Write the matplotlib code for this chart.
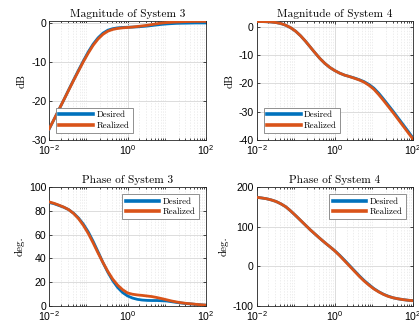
import numpy as np
import matplotlib
matplotlib.use("Agg")
import matplotlib.pyplot as plt
from matplotlib.ticker import LogLocator, NullFormatter, FixedLocator

plt.rcParams['mathtext.fontset'] = 'custom'
plt.rcParams['mathtext.rm'] = 'Liberation Sans'
plt.rcParams['mathtext.it'] = 'Liberation Sans:italic'
plt.rcParams['mathtext.default'] = 'regular'
plt.rcParams['axes.unicode_minus'] = False
plt.rcParams['font.family'] = ['Liberation Sans', 'DejaVu Sans']

# frequency grid (log10 of rad/s)
log_freq = [-2.0, -1.875, -1.75, -1.625, -1.5, -1.375, -1.25, -1.125, -1.0,
            -0.875, -0.75, -0.625, -0.5, -0.375, -0.25, -0.125, 0.0,
            0.125, 0.25, 0.375, 0.5, 0.625, 0.75, 0.875, 1.0,
            1.125, 1.25, 1.375, 1.5, 1.625, 1.75, 1.875, 2.0]

mag3_desired = [-27.3, -24.8, -22.3, -19.8, -17.2, -14.7, -12.2, -9.8, -7.5,
                -5.5, -3.9, -2.7, -1.95, -1.55, -1.35, -1.25, -1.2,
                -1.15, -1.1, -1.0, -0.9, -0.75, -0.6, -0.45, -0.35,
                -0.27, -0.2, -0.17, -0.15, -0.12, -0.1, -0.1, -0.1]
mag3_realized = [-27.2, -24.8, -22.3, -19.8, -17.3, -14.8, -12.4, -10.0, -7.8,
                 -5.8, -4.2, -3.0, -2.2, -1.75, -1.5, -1.35, -1.25,
                 -1.15, -1.0, -0.85, -0.7, -0.5, -0.3, -0.12, 0.0,
                 0.08, 0.15, 0.2, 0.25, 0.28, 0.3, 0.3, 0.3]

mag4_desired = [1.8, 1.8, 1.75, 1.65, 1.45, 1.1, 0.5, -0.4, -1.6,
                -3.2, -5.1, -7.2, -9.3, -11.3, -13.0, -14.4, -15.5,
                -16.4, -17.1, -17.6, -18.1, -18.7, -19.4, -20.4, -21.7,
                -23.5, -25.6, -27.8, -30.0, -32.3, -34.6, -36.9, -39.3]
mag4_realized = [1.8, 1.8, 1.75, 1.65, 1.45, 1.1, 0.5, -0.4, -1.6,
                 -3.2, -5.1, -7.2, -9.3, -11.3, -13.0, -14.4, -15.5,
                 -16.4, -17.1, -17.6, -18.2, -18.8, -19.6, -20.7, -22.1,
                 -24.0, -26.1, -28.3, -30.5, -32.8, -35.1, -37.4, -39.7]

ph3_desired = [87.0, 86.0, 84.5, 83.0, 81.0, 78.0, 74.0, 68.8, 62.3,
               54.3, 45.5, 36.5, 28.3, 21.2, 15.5, 11.3, 8.5,
               6.7, 5.6, 5.0, 4.7, 4.6, 4.6, 4.4, 4.2,
               3.6, 3.0, 2.5, 2.0, 1.7, 1.3, 1.0, 0.7]
ph3_realized = [87.5, 86.3, 84.8, 83.1, 81.0, 77.8, 73.5, 67.8, 61.0,
                53.0, 44.5, 36.5, 29.0, 22.5, 17.5, 13.7, 11.0,
                9.9, 9.3, 8.9, 8.4, 7.9, 7.1, 6.2, 5.2,
                4.2, 3.4, 2.7, 2.2, 1.8, 1.4, 1.0, 0.7]

ph4_desired = [174.0, 172.5, 170.5, 167.5, 163.5, 157.5, 150.0, 139.5, 128.0,
               116.0, 104.0, 92.0, 81.0, 70.0, 59.5, 49.5, 39.5,
               28.0, 15.5, 2.5, -10.5, -23.5, -35.5, -46.0, -56.0,
               -64.0, -70.5, -75.5, -79.5, -82.0, -84.0, -85.5, -86.5]
ph4_realized = [174.0, 172.5, 170.5, 167.5, 163.5, 157.5, 150.0, 139.5, 128.0,
                116.0, 104.0, 92.0, 81.0, 70.0, 59.5, 49.5, 39.0,
                27.0, 14.0, 1.0, -12.0, -25.0, -37.0, -47.5, -57.0,
                -64.5, -71.0, -76.0, -79.5, -82.0, -84.0, -85.5, -86.5]

titles = ["Magnitude of System 3", "Magnitude of System 4",
          "Phase of System 3", "Phase of System 4"]
ylabels = ["dB", "dB", "deg.", "deg."]
series_labels = ["Desired", "Realized"]
ylims = [(-30, 0.4), (-40, 2.0), (0, 100), (-100, 200)]
yticks = [[-30, -20, -10, 0], [-40, -30, -20, -10, 0],
          [0, 20, 40, 60, 80, 100], [-100, 0, 100, 200]]
legend_locs = ["lower left", "lower left", "upper right", "upper right"]
data = [(mag3_desired, mag3_realized), (mag4_desired, mag4_realized),
        (ph3_desired, ph3_realized), (ph4_desired, ph4_realized)]

BLUE = "#0072BD"
ORANGE = "#D95319"
SERIF = "cmr10"

freq = 10.0 ** np.array(log_freq)

fig = plt.figure(figsize=(4.19, 3.28), dpi=100)
W, H = 419.0, 328.0
boxes = [(49, 21, 157, 119), (256.5, 21, 156.5, 119),
         (49, 187, 157, 119), (256.5, 187, 156.5, 119)]

for i in range(4):
    x0, y0, w, h = boxes[i]
    ax = fig.add_axes([x0 / W, 1 - (y0 + h) / H, w / W, h / H])
    d, r = data[i]
    ax.plot(freq, d, color=BLUE, lw=2.0, label=series_labels[0], zorder=3)
    ax.plot(freq, r, color=ORANGE, lw=2.0, label=series_labels[1], zorder=4)
    ax.set_xscale('log')
    ax.set_xlim(0.01, 100)
    ax.set_ylim(*ylims[i])
    ax.xaxis.set_major_locator(FixedLocator([0.01, 1, 100]))
    ax.xaxis.set_minor_locator(LogLocator(base=10, subs=np.arange(2, 10), numticks=20))
    ax.xaxis.set_minor_formatter(NullFormatter())
    ax.set_xticklabels([r'$10^{-2}$', r'$10^{0}$', r'$10^{2}$'])
    ax.set_yticks(yticks[i])
    ax.grid(True, which='major', color='#dcdcdc', lw=0.7, zorder=0)
    ax.grid(True, which='minor', axis='x', color='#e6e6e6', lw=0.5,
            linestyle=(0, (2, 2)), zorder=0)
    ax.tick_params(which='both', direction='in', top=True, right=True,
                   labelsize=7.6, color='#262626', width=0.6, pad=2)
    ax.tick_params(which='major', length=2.5)
    ax.tick_params(which='minor', length=1.5)
    for s in ax.spines.values():
        s.set_color('#262626')
        s.set_linewidth(0.6)
    ax.set_title(titles[i], fontfamily=SERIF, fontsize=8.2, pad=3)
    ax.set_ylabel(ylabels[i], fontfamily=SERIF, fontsize=8, labelpad=3)
    leg = ax.legend(loc=legend_locs[i], prop={'family': SERIF, 'size': 6.4},
                    handlelength=3.8, borderpad=0.35, labelspacing=0.25,
                    handletextpad=0.4, fancybox=False, framealpha=1,
                    borderaxespad=0.8)
    leg.get_frame().set_edgecolor('#7f7f7f')
    leg.get_frame().set_linewidth(0.6)
    for ln in leg.get_lines():
        ln.set_linewidth(2.6)

fig.savefig("out.png", dpi=100)
